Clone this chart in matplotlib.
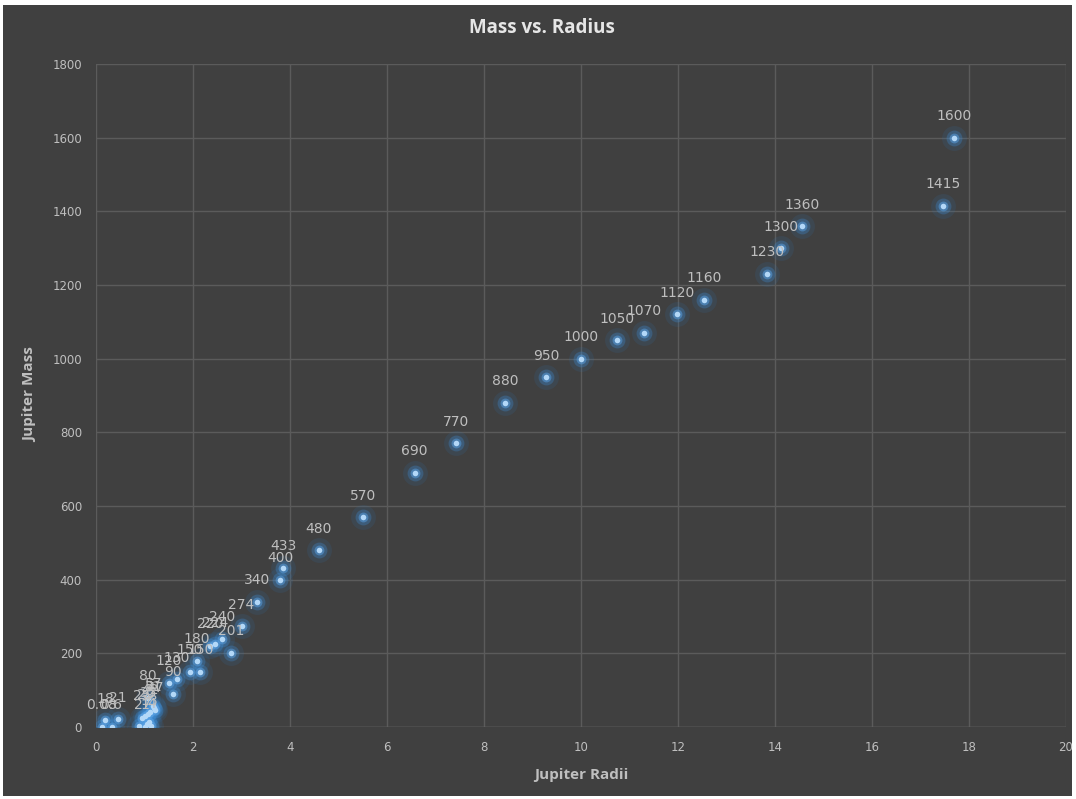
import matplotlib.pyplot as plt
from matplotlib.patches import Rectangle

# Planet / brown dwarf sample: radius (Jupiter radii) and mass (Jupiter masses)
radius = [0.12, 0.19, 0.32, 0.46, 0.88, 0.95, 1.00, 1.02, 1.05, 1.08,
          1.10, 1.12, 1.14, 1.07, 1.18, 1.20, 1.22, 1.58, 1.50, 1.67,
          1.94, 2.15, 2.08, 2.35, 2.46, 2.60, 2.79, 3.00, 3.32, 3.80,
          3.86, 4.59, 5.50, 6.57, 7.42, 8.43, 9.28, 10.00, 10.74, 11.30,
          11.98, 12.54, 13.84, 14.13, 14.55, 17.46, 17.70]
mass = [0.08, 18, 0.6, 21, 2, 25, 1, 29, 7, 35,
        13, 42, 4, 80, 57, 51, 47, 90, 120, 130,
        150, 150, 180, 220, 224, 240, 201, 274, 340, 400,
        433, 480, 570, 690, 770, 880, 950, 1000, 1050, 1070,
        1120, 1160, 1230, 1300, 1360, 1415, 1600]

bg = "#404040"
grid_col = "#5b5b5b"
txt_col = "#bfbfbf"

fig = plt.figure(figsize=(10.76, 7.99), dpi=100, facecolor="white")
fig.patches.append(Rectangle((3 / 1076, 3 / 799), 1 - 7 / 1076, 1 - 8 / 799,
                             transform=fig.transFigure, facecolor=bg,
                             edgecolor="none", zorder=-1))

ax = fig.add_axes([96 / 1076, 1 - 727 / 799, 970 / 1076, 663 / 799])
ax.set_facecolor(bg)

# glow behind each point, then the bright centre
ax.scatter(radius, mass, s=320, color="#2e75b6", alpha=0.14, lw=0, zorder=3)
ax.scatter(radius, mass, s=130, color="#3f8fd8", alpha=0.3, lw=0, zorder=3)
ax.scatter(radius, mass, s=50, color="#5aa3e6", alpha=0.5, lw=0, zorder=3)
ax.scatter(radius, mass, s=16, color="#b3d8f8", lw=0, zorder=4)

for x, y in zip(radius, mass):
    ax.annotate(f"{y:g}", (x, y), xytext=(0, 15.5), textcoords="offset points",
                ha="center", va="center", color=txt_col, fontsize=10,
                family="DejaVu Sans", zorder=5)

ax.set_xlim(0, 20)
ax.set_ylim(0, 1800)
ax.set_xticks(range(0, 21, 2))
ax.set_yticks(range(0, 1801, 200))
ax.grid(True, color=grid_col, lw=1)
ax.set_axisbelow(True)
for s in ax.spines.values():
    s.set_visible(False)
ax.axhline(0, color="#6b6b6b", lw=1, zorder=1)
ax.tick_params(length=0, labelsize=8.5, colors=txt_col, pad=10)

fig.text(0.504, 1 - 28 / 799, "Mass vs. Radius", ha="center", va="center",
         fontsize=13.5, fontweight="bold", color="#e6e6e6", family="Open Sans")
fig.text(581 / 1076, 1 - 775 / 799, "Jupiter Radii", ha="center", va="center",
         fontsize=11, fontweight="bold", color=txt_col, family="Open Sans")
fig.text(30 / 1076, 1 - 395 / 799, "Jupiter Mass", ha="center", va="center",
         rotation=90, fontsize=11, fontweight="bold", color=txt_col,
         family="Open Sans")

plt.savefig("out.png", dpi=100, facecolor="white")
